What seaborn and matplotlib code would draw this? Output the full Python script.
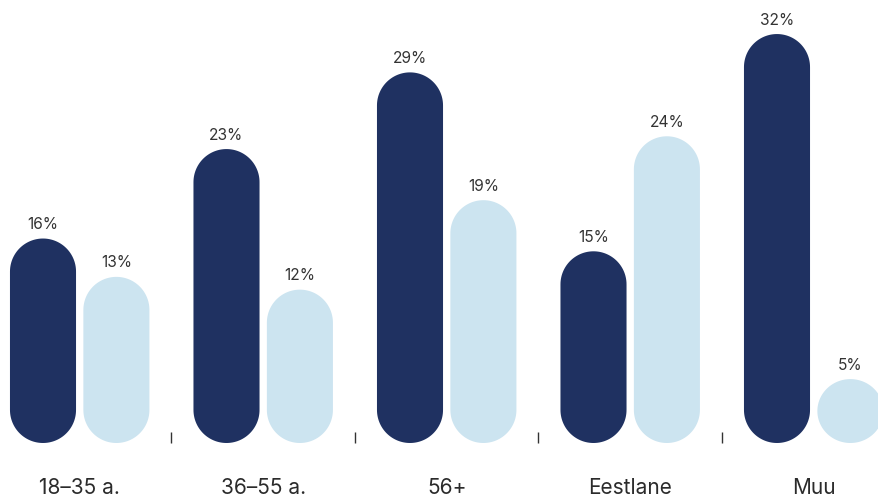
import matplotlib
matplotlib.use("Agg")
import matplotlib.pyplot as plt
import seaborn as sns
import pandas as pd
import numpy as np
from matplotlib.patches import Polygon
from matplotlib.ticker import FixedLocator

categories = ["18–35 a.", "36–55 a.", "56+", "Eestlane", "Muu"]
series_names = ["Seeria 1", "Seeria 2"]
values_1 = [16, 23, 29, 15, 32]
values_2 = [13, 12, 19, 24, 5]
colors = ["#1f3161", "#cce4f0"]

rows = []
for c, a, b in zip(categories, values_1, values_2):
    rows.append({"cat": c, "series": series_names[0], "val": a})
    rows.append({"cat": c, "series": series_names[1], "val": b})
df = pd.DataFrame(rows)

sns.set_theme(style="white")
plt.rcParams["font.family"] = ["Inter", "DejaVu Sans"]

W, H, DPI = 8.79, 4.98, 100
fig = plt.figure(figsize=(W, H), dpi=DPI)
ax_bottom_px = 498 - 443
ax = fig.add_axes([0, ax_bottom_px / 498, 1, 1 - ax_bottom_px / 498])

sns.barplot(data=df, x="cat", y="val", hue="series", palette=colors,
            width=0.8, gap=0.1, ax=ax, legend=False, saturation=1)

step_px = 183.5
xlim = (-79.7 / step_px, (879 - 79.7) / step_px)
ylim = (0, 443 / 12.78)
ax.set_xlim(*xlim)
ax.set_ylim(*ylim)

ax_w_px = W * DPI
ax_h_px = H * DPI * (1 - ax_bottom_px / 498)
px_per_x = ax_w_px / (xlim[1] - xlim[0])
px_per_y = ax_h_px / (ylim[1] - ylim[0])


def pill(x0, w, h):
    rx = w / 2
    ry = min(rx * px_per_x / px_per_y, h / 2)
    cx = x0 + rx
    t = np.linspace(0, np.pi, 60)
    top = np.column_stack([cx + rx * np.cos(t), h - ry + ry * np.sin(t)])
    bot = np.column_stack([cx - rx * np.cos(t), ry - ry * np.sin(t)])
    return np.vstack([top, bot])


bars = list(ax.patches)
for p in bars:
    x0, w, h = p.get_x(), p.get_width(), p.get_height()
    fc = p.get_facecolor()
    p.remove()
    ax.add_patch(Polygon(pill(x0, w, h), closed=True, facecolor=fc,
                         edgecolor="none", linewidth=0))
    ax.annotate(f"{int(round(h))}%", (x0 + w / 2, h), xytext=(0, 6.8),
                textcoords="offset points", ha="center", va="baseline",
                fontsize=11.2, color="#333333")

for s in ax.spines.values():
    s.set_visible(False)
ax.set_yticks([])
ax.set_xlabel("")
ax.set_ylabel("")
ax.xaxis.set_minor_locator(FixedLocator([0.5, 1.5, 2.5, 3.5]))
ax.tick_params(axis="x", which="minor", direction="in", length=7.9,
               width=1, color="#333333", bottom=True)
ax.tick_params(axis="x", which="major", length=0, pad=25,
               labelsize=15, labelcolor="#2b2b2b")
ax.set_facecolor("white")

fig.savefig("out.png", dpi=DPI, facecolor="white")
